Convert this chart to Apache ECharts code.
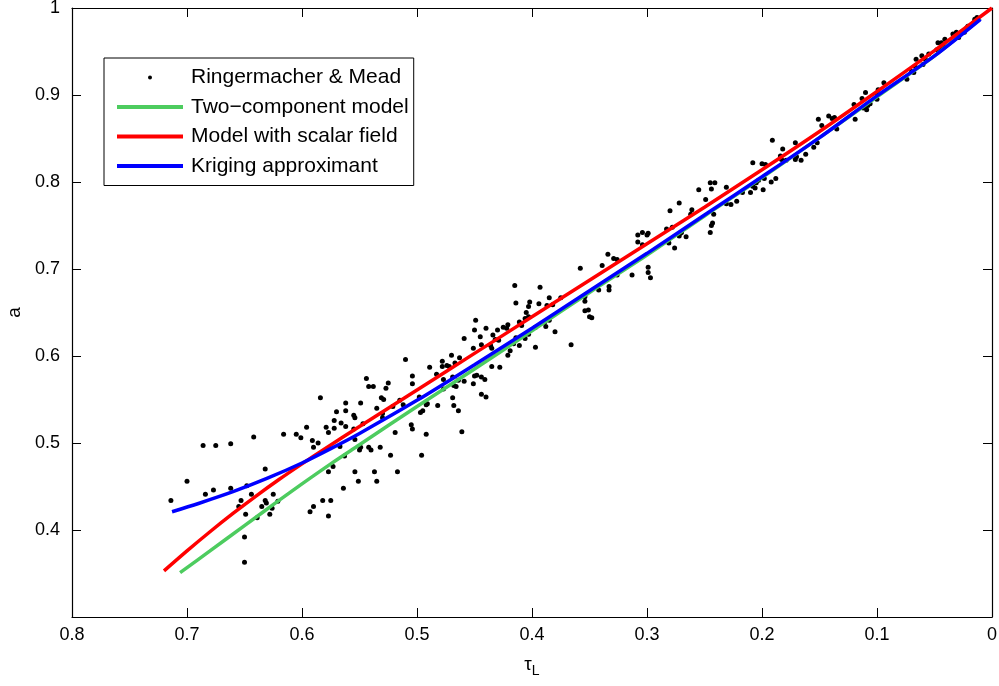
<!DOCTYPE html>
<html>
<head>
<meta charset="utf-8">
<script src="https://cdn.jsdelivr.net/npm/echarts@6/dist/echarts.min.js"></script>
<style>
  html, body { margin: 0; padding: 0; background: #fff; }
  #chart { width: 999px; height: 686px; }
</style>
</head>
<body>
<div id="chart"></div>
<script>
// Ringermacher & Mead data points [tau_L, a]
const rmPoints = [
  [0.584,0.552],[0.686,0.497],[0.675,0.497],[0.662,0.499],[0.642,0.507],[0.616,0.510],[0.605,0.510],[0.601,0.506],
  [0.596,0.518],[0.591,0.503],[0.590,0.495],[0.586,0.500],[0.579,0.518],[0.577,0.512],[0.632,0.470],[0.700,0.456],
  [0.677,0.446],[0.684,0.441],[0.662,0.448],[0.648,0.451],[0.644,0.441],[0.714,0.434],[0.653,0.434],[0.655,0.427],
  [0.632,0.434],[0.631,0.431],[0.625,0.441],[0.635,0.427],[0.626,0.425],[0.621,0.433],[0.649,0.418],[0.639,0.414],
  [0.628,0.418],[0.650,0.392],[0.650,0.363],[0.593,0.421],[0.590,0.427],[0.582,0.434],[0.577,0.416],[0.577,0.467],
  [0.554,0.467],[0.537,0.467],[0.517,0.467],[0.551,0.456],[0.535,0.456],[0.564,0.448],[0.575,0.434],[0.567,0.496],
  [0.449,0.641],[0.450,0.630],[0.440,0.632],[0.445,0.622],[0.459,0.620],[0.451,0.609],[0.444,0.613],[0.510,0.596],
  [0.470,0.601],[0.478,0.594],[0.474,0.589],[0.472,0.588],[0.467,0.592],[0.463,0.598],[0.489,0.587],[0.478,0.588],
  [0.483,0.579],[0.504,0.577],[0.544,0.574],[0.542,0.565],[0.538,0.565],[0.525,0.569],[0.527,0.563],[0.504,0.568],
  [0.477,0.573],[0.477,0.562],[0.469,0.576],[0.464,0.572],[0.468,0.566],[0.466,0.565],[0.459,0.571],[0.451,0.568],
  [0.450,0.577],[0.448,0.578],[0.444,0.576],[0.441,0.573],[0.444,0.556],[0.440,0.553],[0.531,0.552],[0.529,0.550],
  [0.549,0.546],[0.498,0.553],[0.491,0.545],[0.482,0.543],[0.469,0.552],[0.468,0.543],[0.464,0.537],[0.562,0.546],
  [0.570,0.536],[0.562,0.537],[0.555,0.532],[0.554,0.529],[0.535,0.540],[0.572,0.517],[0.572,0.526],[0.566,0.523],
  [0.562,0.519],[0.555,0.516],[0.547,0.522],[0.530,0.534],[0.530,0.529],[0.515,0.549],[0.512,0.544],[0.521,0.542],
  [0.497,0.535],[0.495,0.537],[0.492,0.544],[0.505,0.521],[0.504,0.516],[0.519,0.512],[0.492,0.510],[0.461,0.513],
  [0.549,0.495],[0.550,0.492],[0.542,0.495],[0.540,0.492],[0.532,0.495],[0.563,0.485],[0.573,0.473],[0.523,0.486],
  [0.496,0.486],[0.554,0.504],
  [0.308,0.739],[0.304,0.742],[0.300,0.739],[0.308,0.731],[0.304,0.728],[0.299,0.702],[0.299,0.696],[0.297,0.690],
  [0.313,0.693],[0.334,0.717],[0.329,0.712],[0.326,0.711],[0.339,0.704],[0.326,0.693],[0.358,0.701],[0.333,0.680],
  [0.333,0.676],[0.342,0.676],[0.354,0.668],[0.354,0.663],[0.354,0.652],[0.351,0.653],[0.350,0.645],[0.348,0.644],
  [0.415,0.681],[0.393,0.679],[0.414,0.661],[0.402,0.662],[0.403,0.657],[0.394,0.660],[0.385,0.667],[0.382,0.659],
  [0.387,0.658],[0.375,0.667],[0.405,0.650],[0.403,0.645],[0.406,0.643],[0.389,0.639],[0.388,0.634],[0.385,0.641],
  [0.380,0.628],[0.397,0.633],[0.411,0.639],[0.409,0.635],[0.421,0.636],[0.425,0.633],[0.422,0.632],[0.430,0.630],
  [0.434,0.624],[0.432,0.619],[0.435,0.609],[0.429,0.618],[0.436,0.612],[0.416,0.614],[0.419,0.606],[0.421,0.601],
  [0.414,0.621],[0.403,0.625],[0.406,0.620],[0.411,0.612],[0.397,0.610],[0.366,0.613],[0.435,0.588],[0.428,0.587],
  [0.151,0.872],[0.191,0.848],[0.171,0.845],[0.182,0.838],[0.184,0.830],[0.183,0.826],[0.179,0.825],[0.171,0.826],
  [0.170,0.829],[0.166,0.825],[0.162,0.832],[0.155,0.840],[0.152,0.845],[0.208,0.822],[0.200,0.821],[0.197,0.820],
  [0.198,0.804],[0.188,0.804],[0.192,0.800],[0.205,0.799],[0.208,0.795],[0.206,0.793],[0.210,0.788],[0.199,0.791],
  [0.203,0.802],[0.217,0.788],[0.222,0.778],[0.231,0.794],[0.245,0.799],[0.241,0.799],[0.244,0.792],[0.255,0.791],
  [0.249,0.780],[0.231,0.775],[0.227,0.774],[0.272,0.776],[0.261,0.768],[0.262,0.763],[0.280,0.767],[0.242,0.763],
  [0.243,0.753],[0.244,0.750],[0.245,0.742],[0.283,0.746],[0.278,0.748],[0.271,0.741],[0.270,0.742],[0.266,0.737],
  [0.272,0.738],[0.299,0.741],[0.281,0.730],[0.276,0.724],
  [0.148,0.865],[0.142,0.876],[0.139,0.873],[0.137,0.874],[0.135,0.861],[0.119,0.872],[0.120,0.889],[0.112,0.885],
  [0.110,0.887],[0.109,0.883],[0.108,0.888],[0.106,0.890],[0.113,0.896],[0.110,0.903],[0.100,0.895],[0.100,0.901],
  [0.099,0.906],[0.094,0.914],[0.074,0.918],[0.070,0.927],[0.068,0.926],[0.067,0.933],[0.066,0.941],[0.061,0.945],
  [0.060,0.935],[0.058,0.941],[0.055,0.947],[0.048,0.952],[0.044,0.953],[0.042,0.956],[0.047,0.960],[0.044,0.960],
  [0.041,0.964],[0.034,0.970],[0.029,0.966],[0.031,0.972],[0.025,0.973],[0.022,0.977],[0.021,0.979],[0.024,0.972],
  [0.016,0.983],[0.015,0.987],[0.013,0.989]
];

// model curves [tau_L, a]
const twoComponent = [
  [0.706,0.351],[0.68,0.376],[0.65,0.405],[0.62,0.434],[0.60,0.453],[0.575,0.476],[0.55,0.498],[0.50,0.542],
  [0.45,0.585],[0.40,0.629],[0.35,0.673],[0.30,0.716],[0.25,0.761],[0.20,0.805],[0.15,0.851],[0.10,0.898],
  [0.05,0.945],[0.01,0.988]
];
const scalarField = [
  [0.72,0.353],[0.70,0.376],[0.68,0.398],[0.66,0.419],[0.64,0.439],[0.62,0.458],[0.60,0.476],[0.58,0.4935],
  [0.55,0.519],[0.50,0.561],[0.45,0.603],[0.40,0.645],[0.35,0.687],[0.30,0.729],[0.25,0.771],[0.20,0.814],
  [0.15,0.858],[0.10,0.904],[0.05,0.951],[0.00,1.000]
];
const kriging = [
  [0.713,0.421],[0.69,0.4305],[0.66,0.444],[0.63,0.4595],[0.60,0.477],[0.575,0.4935],[0.55,0.511],[0.50,0.549],
  [0.45,0.590],[0.40,0.632],[0.35,0.675],[0.30,0.718],[0.25,0.762],[0.20,0.806],[0.15,0.851],[0.10,0.899],
  [0.05,0.945],[0.01,0.987]
];

const font = "'Liberation Sans', Arial, sans-serif";
const chart = echarts.init(document.getElementById('chart'));

const tickStyle = { show: true, inside: true, length: 9, lineStyle: { color: '#000', width: 1 } };
const lineStyleAxis = { show: true, onZero: false, lineStyle: { color: '#000', width: 1.2 } };
const fmt = v => String(+v.toFixed(1));

chart.setOption({
  animation: false,
  backgroundColor: '#fff',
  grid: { left: 72, right: 7, top: 8, bottom: 69, outerBoundsMode: 'none', containLabel: false },
  legend: {
    orient: 'vertical',
    left: 104,
    top: 58,
    padding: [9, 5, 9, 13],
    itemWidth: 66,
    itemHeight: 4,
    itemGap: 8.5,
    backgroundColor: '#fff',
    borderColor: '#000',
    borderWidth: 1,
    borderRadius: 0,
    textStyle: { fontFamily: font, fontSize: 21, color: '#000', lineHeight: 21, padding: [0, 0, 0, 3] },
    data: [
      { name: 'Ringermacher & Mead', icon: 'circle' },
      { name: 'Two\u2212component model', icon: 'rect' },
      { name: 'Model with scalar field', icon: 'rect' },
      { name: 'Kriging approximant', icon: 'rect' }
    ]
  },
  xAxis: [
    {
      type: 'value', min: 0, max: 0.8, interval: 0.1, inverse: true,
      position: 'bottom',
      axisLine: lineStyleAxis, axisTick: tickStyle, splitLine: { show: false },
      axisLabel: { formatter: fmt, fontFamily: font, fontSize: 18, color: '#000', margin: 9 },
      name: '{t|\u03c4}{s|L}', nameLocation: 'middle', nameGap: 35,
      nameTextStyle: {
        rich: {
          t: { fontFamily: font, fontSize: 19, color: '#000' },
          s: { fontFamily: font, fontSize: 14, color: '#000', padding: [12, 0, 0, 0] }
        }
      }
    },
    {
      type: 'value', min: 0, max: 0.8, interval: 0.1, inverse: true,
      position: 'top',
      axisLine: lineStyleAxis, axisTick: tickStyle, splitLine: { show: false },
      axisLabel: { show: false }
    }
  ],
  yAxis: [
    {
      type: 'value', min: 0.3, max: 1, interval: 0.1,
      position: 'left',
      axisLine: lineStyleAxis, axisTick: tickStyle, splitLine: { show: false },
      axisLabel: {
        formatter: v => (Math.abs(v - 0.3) < 1e-6 ? '' : fmt(v)),
        fontFamily: font, fontSize: 18, color: '#000', margin: 12
      },
      name: 'a', nameLocation: 'middle', nameGap: 48,
      nameTextStyle: { fontFamily: font, fontSize: 19, color: '#000' }
    },
    {
      type: 'value', min: 0.3, max: 1, interval: 0.1,
      position: 'right',
      axisLine: lineStyleAxis, axisTick: tickStyle, splitLine: { show: false },
      axisLabel: { show: false }
    }
  ],
  series: [
    {
      name: 'Ringermacher & Mead',
      type: 'scatter',
      data: rmPoints,
      symbol: 'circle',
      symbolSize: 5,
      itemStyle: { color: '#000', opacity: 1 },
      z: 2
    },
    {
      name: 'Two\u2212component model',
      type: 'line',
      data: twoComponent,
      smooth: 0.3,
      showSymbol: false,
      lineStyle: { color: '#4dcc5f', width: 3.5 },
      itemStyle: { color: '#4dcc5f' },
      z: 3
    },
    {
      name: 'Model with scalar field',
      type: 'line',
      data: scalarField,
      smooth: 0.3,
      showSymbol: false,
      lineStyle: { color: '#ff0000', width: 3.5 },
      itemStyle: { color: '#ff0000' },
      z: 4
    },
    {
      name: 'Kriging approximant',
      type: 'line',
      data: kriging,
      smooth: 0.3,
      showSymbol: false,
      lineStyle: { color: '#0000ff', width: 3.5 },
      itemStyle: { color: '#0000ff' },
      z: 5
    }
  ]
});
</script>
</body>
</html>
